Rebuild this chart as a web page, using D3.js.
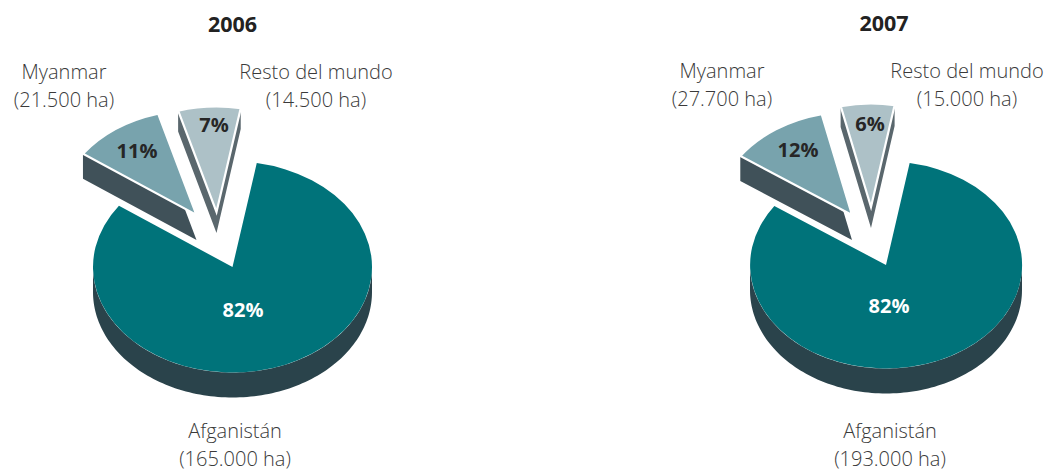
<!DOCTYPE html>
<html><head><meta charset="utf-8">
<script src="https://cdn.jsdelivr.net/npm/d3@7"></script>
<style>
html,body{margin:0;padding:0;background:#fff}
svg{display:block}
text{font-family:"Open Sans",sans-serif;fill:#3a3a3a}
.lab{font-size:20px;font-weight:300}
.title{font-size:21.5px;font-weight:700;fill:#222}
.pct{font-size:20px;font-weight:700}
</style></head><body>
<svg id="c" width="1045" height="470"></svg>
<script>
const years = ["2006","2007"];
const categories = ["Afganistán","Myanmar","Resto del mundo"];
const hectares2006 = [165000,21500,14500];
const hectares2007 = [193000,27700,15000];
const labels2006 = ["82%","11%","7%"];
const labels2007 = ["82%","12%","6%"];
const areaLabels2006 = ["(165.000 ha)","(21.500 ha)","(14.500 ha)"];
const areaLabels2007 = ["(193.000 ha)","(27.700 ha)","(15.000 ha)"];
const topColors = ["#00737a","#78a3ad","#adc1c7"];
const sideColors = ["#2a434b","#405159","#5a676d"];

const layouts = [
 {values:hectares2006,pcts:labels2006,areas:areaLabels2006,title:years[0],tx:232.5,ty:32,
  cx:232.5,cy:267,rx:139.5,ry:105.5,depth:25,
  off:[[0,0],[-36,-52],[-16,-55]],depths:[25,25,21],
  pctPos:[[243,317],[137,158],[214,132]],
  lab:[[235,438],[64,79],[316,79]]},
 {values:hectares2007,pcts:labels2007,areas:areaLabels2007,title:years[1],tx:884,ty:31,
  cx:886,cy:265,rx:136,ry:103.5,depth:25,
  off:[[0,0],[-34,-50],[-15,-58]],depths:[25,25,21],
  pctPos:[[889,313],[798,157],[870,131]],
  lab:[[890,438],[722,78],[967,78]]}
];
const svg = d3.select("#c");
const pie = d3.pie().sort(null).startAngle(10*Math.PI/180).endAngle((360+10)*Math.PI/180);
const arc = d3.arc().innerRadius(0).outerRadius(1);

layouts.forEach(L=>{
  const g = svg.append("g");
  const arcs = pie(L.values);
  const pt=(a,r,i,dz=0)=>[L.cx+L.off[i][0]+L.rx*r*Math.sin(a), L.cy+L.off[i][1]+dz-L.ry*r*Math.cos(a)];
  const line=d3.line();
  arcs.forEach((d,i)=>{
    const s=g.append("g");
    const dz=L.depths[i];
    if(i===0){
      const a0=Math.PI/2,a1=Math.PI*1.5;
      const as=d3.range(0,121).map(k=>a0+(a1-a0)*k/120);
      const pts=as.map(a=>pt(a,1,i)).concat(as.slice().reverse().map(a=>pt(a,1,i,dz)));
      s.append("path").attr("d",line(pts)+"Z").attr("fill",sideColors[i]);
    } else {
      const pts=[pt(d.startAngle,1,i),pt(0,0,i),pt(d.endAngle,1,i),pt(d.endAngle,1,i,dz),pt(0,0,i,dz),pt(d.startAngle,1,i,dz)];
      s.append("path").attr("d",line(pts)+"Z").attr("fill",sideColors[i]);
    }
    s.append("path").attr("d",arc(d))
      .attr("transform",`translate(${L.cx+L.off[i][0]},${L.cy+L.off[i][1]}) scale(${L.rx},${L.ry})`)
      .attr("fill",topColors[i])
      .attr("stroke","#fff").attr("stroke-width",i===0?0:2.2)
      .attr("vector-effect","non-scaling-stroke");
  });
  arcs.forEach((d,i)=>{
    g.append("text").attr("class","pct").attr("x",L.pctPos[i][0]).attr("y",L.pctPos[i][1])
      .attr("text-anchor","middle").style("fill",i===0?"#fff":"#262626").text(L.pcts[i]);
    const t=g.append("text").attr("class","lab").attr("text-anchor","middle");
    t.append("tspan").attr("x",L.lab[i][0]).attr("y",L.lab[i][1]).text(categories[i]);
    t.append("tspan").attr("x",L.lab[i][0]).attr("y",L.lab[i][1]+28).text(L.areas[i]);
  });
  g.append("text").attr("class","title").attr("x",L.tx).attr("y",L.ty).attr("text-anchor","middle").text(L.title);
});
</script></body></html>
